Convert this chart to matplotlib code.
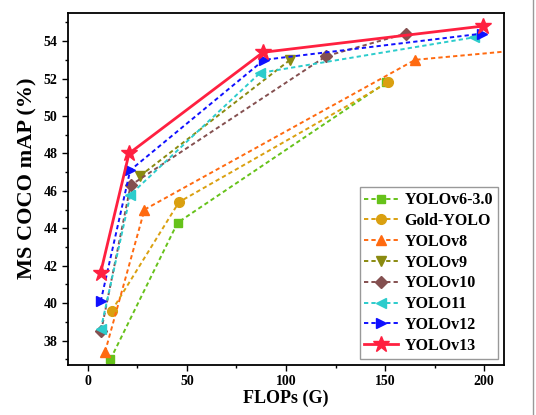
import matplotlib
matplotlib.use("Agg")
import matplotlib.pyplot as plt
from matplotlib.ticker import MultipleLocator
from matplotlib.lines import Line2D

plt.rcParams['font.family'] = ['Liberation Serif', 'DejaVu Serif']
plt.rcParams['font.weight'] = 'bold'

# FLOPs (G) and mAP (%) per model family
v6_flops = [11.4, 45.3, 150.7]
v6_map = [37.0, 44.3, 51.8]
gold_flops = [12.1, 46.0, 151.7]
gold_map = [39.6, 45.4, 51.8]
v8_flops = [8.7, 28.6, 165.2, 257.8]
v8_map = [37.4, 45.0, 53.0, 53.9]
v9_flops = [26.4, 102.1]
v9_map = [46.8, 53.0]
v10_flops = [6.7, 21.6, 120.3, 160.4]
v10_map = [38.5, 46.3, 53.2, 54.4]
v11_flops = [6.5, 21.5, 86.9, 194.9]
v11_map = [38.6, 45.8, 52.3, 54.2]
v12_flops = [6.5, 21.4, 88.9, 199.0]
v12_map = [40.1, 47.1, 53.0, 54.4]
v13_flops = [6.4, 20.8, 88.4, 199.2]
v13_map = [41.6, 48.0, 53.4, 54.8]

fig = plt.figure(figsize=(5.36, 4.15), dpi=100)
ax = fig.add_axes([68/536, 1 - 365/415, (504-68)/536, (365-13)/415])

dash = (0, (2.2, 1.6))
ax.plot(v6_flops, v6_map, linestyle=dash, lw=1.4, color='#66c21a',
        marker='s', ms=6, label='YOLOv6-3.0')
ax.plot(gold_flops, gold_map, linestyle=dash, lw=1.4, color='#daa010',
        marker='o', ms=7, label='Gold-YOLO')
ax.plot(v8_flops, v8_map, linestyle=dash, lw=1.4, color='#ff6a10',
        marker='^', ms=7, label='YOLOv8')
ax.plot(v9_flops, v9_map, linestyle=dash, lw=1.4, color='#8a8a10',
        marker='v', ms=7, label='YOLOv9')
ax.plot(v10_flops, v10_map, linestyle=dash, lw=1.4, color='#845050',
        marker='D', ms=6, label='YOLOv10')
ax.plot(v11_flops, v11_map, linestyle=dash, lw=1.4, color='#2ccccc',
        marker='<', ms=7, label='YOLO11')
ax.plot(v12_flops, v12_map, linestyle=dash, lw=1.4, color='#1010ff',
        marker='>', ms=7, label='YOLOv12')
ax.plot(v13_flops, v13_map, linestyle='-', lw=2.0, color='#ff2040',
        marker='*', ms=12, label='YOLOv13')

ax.set_xlim(-10, 210)
ax.set_ylim(36.7, 55.5)
ax.xaxis.set_major_locator(MultipleLocator(50))
ax.xaxis.set_minor_locator(MultipleLocator(25))
ax.yaxis.set_major_locator(MultipleLocator(2))
ax.yaxis.set_minor_locator(MultipleLocator(1))
ax.tick_params(which='both', direction='out', top=False, right=False,
               labelsize=10, width=1.0)
ax.tick_params(which='major', length=4)
ax.tick_params(which='minor', length=2.5)
for s in ax.spines.values():
    s.set_linewidth(1.3)

ax.set_xlabel('FLOPs (G)', fontsize=13, fontweight='bold', labelpad=1)
ax.set_ylabel('MS COCO mAP (%)', fontsize=16, fontweight='bold')
ax.yaxis.set_label_coords(-0.07, 0.53)

leg = ax.legend(loc='lower right', fontsize=11.5, fancybox=False,
                edgecolor='#999999', framealpha=1, handlelength=2.1,
                borderaxespad=0.4, labelspacing=0.3, handletextpad=0.4,
                borderpad=0.3)
leg.get_frame().set_linewidth(1.0)

fig.add_artist(Line2D([533/536, 533/536], [0, 1], color='#999999', lw=1.0))

fig.savefig('out.png', dpi=100)
